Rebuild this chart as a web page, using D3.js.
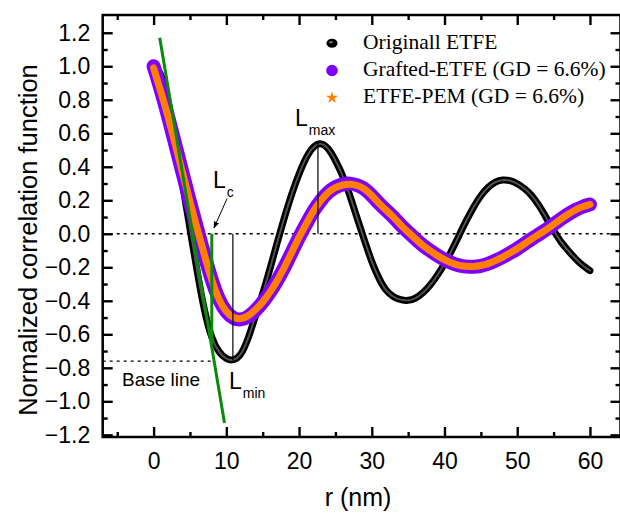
<!DOCTYPE html>
<html><head><meta charset="utf-8">
<script src="https://cdn.jsdelivr.net/npm/d3@7"></script>
<style>body{margin:0;background:#fff}svg{display:block}</style>
</head><body><svg id="c" width="620" height="514"></svg>
<script>
// ---- data ----
const r = [0,1,2,3,4,5,6,7,8,9,10,11,12,13,14,15,16,17,18,19,20,21,22,23,24,25,26,27,28,29,30,
           31,32,33,34,35,36,37,38,39,40,41,42,43,44,45,46,47,48,49,50,51,52,53,54,55,56,57,58,59,60];
const originalETFE = [1.00,0.97,0.80,0.55,0.29,0.03,-0.23,-0.47,-0.63,-0.71,-0.75,-0.758,-0.728,-0.63,-0.49,-0.36,
  -0.21,-0.05,0.10,0.24,0.36,0.46,0.525,0.545,0.515,0.44,0.35,0.23,0.09,-0.04,-0.17,-0.27,-0.345,-0.378,-0.395,-0.40,
  -0.388,-0.355,-0.31,-0.25,-0.18,-0.10,-0.01,0.08,0.16,0.23,0.28,0.312,0.323,0.32,0.30,0.272,0.23,0.17,0.095,0.02,
  -0.05,-0.10,-0.15,-0.19,-0.22];
const graftedETFE = [1.00,0.86,0.70,0.53,0.36,0.19,0.03,-0.13,-0.28,-0.40,-0.47,-0.508,-0.515,-0.498,-0.46,-0.41,
  -0.35,-0.28,-0.20,-0.11,-0.02,0.06,0.14,0.20,0.25,0.28,0.297,0.302,0.292,0.27,0.23,0.18,0.14,0.10,0.05,0.01,
  -0.03,-0.07,-0.10,-0.13,-0.155,-0.175,-0.19,-0.197,-0.198,-0.192,-0.18,-0.16,-0.14,-0.115,-0.09,-0.06,-0.03,
  -0.003,0.025,0.055,0.088,0.117,0.143,0.163,0.175];
const etfePEM = [0.99,0.85,0.70,0.53,0.36,0.19,0.03,-0.13,-0.28,-0.40,-0.47,-0.503,-0.51,-0.493,-0.455,-0.41,
  -0.35,-0.28,-0.20,-0.11,-0.02,0.06,0.14,0.20,0.25,0.277,0.293,0.298,0.29,0.27,0.23,0.18,0.14,0.10,0.05,0.01,
  -0.03,-0.07,-0.10,-0.13,-0.155,-0.175,-0.19,-0.195,-0.196,-0.19,-0.18,-0.16,-0.14,-0.115,-0.09,-0.06,-0.03,
  -0.003,0.025,0.055,0.088,0.117,0.143,0.163,0.175];
const seriesNames = ["Originall ETFE", "Grafted-ETFE (GD = 6.6%)", "ETFE-PEM (GD = 6.6%)"];
const xTicks = [0,10,20,30,40,50,60];
const xMinor = [-5,5,15,25,35,45,55];
const yTicks = [-1.2,-1.0,-0.8,-0.6,-0.4,-0.2,0.0,0.2,0.4,0.6,0.8,1.0,1.2];
const yMinor = [-1.1,-0.9,-0.7,-0.5,-0.3,-0.1,0.1,0.3,0.5,0.7,0.9,1.1];
const tangentLine = [[0.84,1.17],[9.75,-1.13]];
const lcLine = [[8.0,0],[8.0,-0.66]];
const lminLine = [[10.9,0],[10.9,-0.755]];
const lmaxLine = [[22.6,0],[22.6,0.54]];
const baseLine = [[-7,-0.76],[8.0,-0.76]];
const lcArrow = [[10.1,0.21],[8.3,0.035]];

// ---- layout ----
const svg = d3.select("#c");
const L = 102.7, R = 620.5, T = 15, B = 437;
const x = d3.scaleLinear().domain([-7, 64.2]).range([L, R]);
const y = d3.scaleLinear().domain([-1.213, 1.306]).range([B, T]);
const sans = "Arial, 'Liberation Sans', sans-serif";
const serif = "'Times New Roman', 'Liberation Serif', serif";

const defs = svg.append("defs");
defs.append("clipPath").attr("id","clip").append("rect")
  .attr("x",L).attr("y",T).attr("width",R-L).attr("height",B-T);
defs.append("marker").attr("id","arr").attr("viewBox","0 0 10 10").attr("refX",9).attr("refY",5)
  .attr("markerWidth",7).attr("markerHeight",7).attr("orient","auto")
  .append("path").attr("d","M0,1 L10,5 L0,9 Z").attr("fill","#000");

const line = d3.line().x(d=>x(d[0])).y(d=>y(d[1]));
const curve = d3.line().x(d=>x(d[0])).y(d=>y(d[1])).curve(d3.curveBasis);
const plot = svg.append("g").attr("clip-path","url(#clip)");

// dotted reference lines
plot.append("path").attr("d", line([[-7,0],[64.2,0]])).attr("stroke","#000")
  .attr("stroke-width",1.6).attr("stroke-dasharray","3,4").attr("fill","none");
plot.append("path").attr("d", line(baseLine)).attr("stroke","#000")
  .attr("stroke-width",1.4).attr("stroke-dasharray","3,4").attr("fill","none");

// series
const blackPts = r.map((v,i)=>[v, originalETFE[i]]);
const purplePts = r.map((v,i)=>[v, graftedETFE[i]]);
const orangePts = r.map((v,i)=>[v, etfePEM[i]]);

plot.append("path").attr("d", curve(blackPts)).attr("fill","none").attr("stroke","#000")
  .attr("stroke-width",7).attr("stroke-linecap","round").attr("stroke-linejoin","round");
plot.append("path").attr("d", curve(blackPts)).attr("fill","none").attr("stroke","#555")
  .attr("stroke-width",1.8).attr("stroke-linecap","round");
plot.append("path").attr("d", curve(purplePts)).attr("fill","none").attr("stroke","#8000ff")
  .attr("stroke-width",14).attr("stroke-linecap","round").attr("stroke-linejoin","round");
plot.append("path").attr("d", curve(orangePts)).attr("fill","none").attr("stroke","#ff8000")
  .attr("stroke-width",7).attr("stroke-linecap","round").attr("stroke-linejoin","round");

// annotation lines
plot.append("path").attr("d", line(tangentLine)).attr("stroke","#0a8a0a").attr("stroke-width",3).attr("fill","none");
plot.append("path").attr("d", line(lcLine)).attr("stroke","#0a8a0a").attr("stroke-width",3).attr("fill","none");
plot.append("path").attr("d", line(lminLine)).attr("stroke","#000").attr("stroke-width",1.2).attr("fill","none");
plot.append("path").attr("d", line(lmaxLine)).attr("stroke","#000").attr("stroke-width",1.2).attr("fill","none");
svg.append("path").attr("d", line(lcArrow)).attr("stroke","#000").attr("stroke-width",1)
  .attr("fill","none").attr("marker-end","url(#arr)");

// labels with subscripts
function sublabel(px, py, main, sub) {
  const t = svg.append("text").attr("x",px).attr("y",py).attr("font-family",sans)
    .attr("font-size",23).attr("fill","#000");
  t.append("tspan").text(main);
  t.append("tspan").attr("font-size",14).attr("dy",9).attr("dx",1).text(sub);
}
sublabel(213, 188, "L", "c");
sublabel(229, 389, "L", "min");
sublabel(295, 126, "L", "max");
svg.append("text").attr("x",122).attr("y",386).attr("font-family",sans).attr("font-size",19)
  .text("Base line");

// axes
const axG = svg.append("g");
function styleAxis(g, labels) {
  g.select(".domain").remove();
  g.selectAll(".tick line").attr("stroke","#000").attr("stroke-width",2.4);
  if (!labels) g.selectAll(".tick text").remove();
  else g.selectAll(".tick text").attr("font-family",sans).attr("font-size",23).attr("fill","#000");
}
const fmt = d3.format(".1f");
axG.append("g").attr("transform",`translate(0,${B})`)
  .call(d3.axisBottom(x).tickValues(xTicks).tickSizeInner(-10).tickSizeOuter(0).tickPadding(16))
  .call(g=>styleAxis(g,true));
axG.append("g").attr("transform",`translate(0,${B})`)
  .call(d3.axisBottom(x).tickValues(xMinor).tickSizeInner(-5).tickSizeOuter(0)).call(g=>styleAxis(g,false));
axG.append("g").attr("transform",`translate(0,${T})`)
  .call(d3.axisTop(x).tickValues(xTicks).tickSizeInner(-10).tickSizeOuter(0)).call(g=>styleAxis(g,false));
axG.append("g").attr("transform",`translate(0,${T})`)
  .call(d3.axisTop(x).tickValues(xMinor).tickSizeInner(-5).tickSizeOuter(0)).call(g=>styleAxis(g,false));
axG.append("g").attr("transform",`translate(${L},0)`)
  .call(d3.axisLeft(y).tickValues(yTicks).tickFormat(fmt).tickSizeInner(-10).tickSizeOuter(0).tickPadding(12.5))
  .call(g=>styleAxis(g,true));
axG.append("g").attr("transform",`translate(${L},0)`)
  .call(d3.axisLeft(y).tickValues(yMinor).tickSizeInner(-5).tickSizeOuter(0)).call(g=>styleAxis(g,false));
axG.append("g").attr("transform",`translate(${R},0)`)
  .call(d3.axisRight(y).tickValues(yTicks).tickSizeInner(-10).tickSizeOuter(0)).call(g=>styleAxis(g,false));
axG.append("g").attr("transform",`translate(${R},0)`)
  .call(d3.axisRight(y).tickValues(yMinor).tickSizeInner(-5).tickSizeOuter(0)).call(g=>styleAxis(g,false));
svg.append("rect").attr("x",L).attr("y",T).attr("width",R-L).attr("height",B-T)
  .attr("fill","none").attr("stroke","#000").attr("stroke-width",2.5);

// axis titles
svg.append("text").attr("transform","translate(37,240) rotate(-90)").attr("text-anchor","middle")
  .attr("font-family",sans).attr("font-size",25.5).text("Normalized correlation function");
svg.append("text").attr("x",358).attr("y",506).attr("text-anchor","middle")
  .attr("font-family",sans).attr("font-size",25).text("r (nm)");

// legend
const leg = svg.append("g");
const rowsY = [48.7, 76, 103.3];
leg.append("ellipse").attr("cx",332).attr("cy",rowsY[0]-5.5).attr("rx",5.5).attr("ry",4.5).attr("fill","#000");
leg.append("ellipse").attr("cx",331).attr("cy",rowsY[0]-6.5).attr("rx",2).attr("ry",1.2).attr("fill","#666");
leg.append("circle").attr("cx",332).attr("cy",rowsY[1]-5.5).attr("r",5.8).attr("fill","#8000ff");
leg.append("path").attr("d", d3.symbol().type(d3.symbolStar).size(45)())
  .attr("transform",`translate(332,${rowsY[2]-5.5})`).attr("fill","#ff8000");
seriesNames.forEach((n,i)=>{
  leg.append("text").attr("x",363).attr("y",rowsY[i]).attr("font-family",serif)
    .attr("font-size",21.5).attr("fill","#000").text(n);
});
</script></body></html>
